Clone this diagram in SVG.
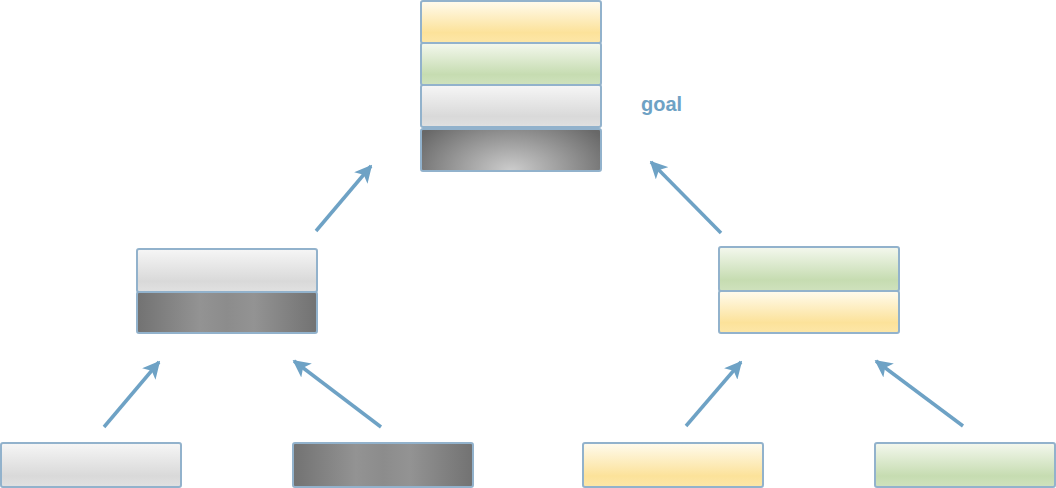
<svg xmlns="http://www.w3.org/2000/svg" width="1056" height="488" viewBox="0 0 1056 488">
<style>
.n{stroke:#92b2cc;stroke-width:2}
.c{stroke:#6ea2c5;stroke-width:3.5;fill:none;marker-end:url(#ah)}
.y{fill:url(#gy)}.g{fill:url(#gg)}.l{fill:url(#gl)}.d{fill:url(#gd)}.r{fill:url(#gr)}
</style>
<defs>
<linearGradient id="gy" x1="0" y1="0" x2="0" y2="1"><stop offset="0" stop-color="#fffbee"/><stop offset="0.75" stop-color="#fce29a"/><stop offset="1" stop-color="#fde7a8"/></linearGradient>
<linearGradient id="gg" x1="0" y1="0" x2="0" y2="1"><stop offset="0" stop-color="#f4f8ee"/><stop offset="0.75" stop-color="#c6dcb1"/><stop offset="1" stop-color="#cfe2bd"/></linearGradient>
<linearGradient id="gl" x1="0" y1="0" x2="0" y2="1"><stop offset="0" stop-color="#f6f6f6"/><stop offset="0.75" stop-color="#d9d9d9"/><stop offset="1" stop-color="#e1e1e1"/></linearGradient>
<linearGradient id="gd" x1="0" y1="0" x2="1" y2="0"><stop offset="0" stop-color="#727272"/><stop offset="0.35" stop-color="#939393"/><stop offset="0.5" stop-color="#8c8c8c"/><stop offset="0.65" stop-color="#939393"/><stop offset="1" stop-color="#727272"/></linearGradient>
<radialGradient id="gr" cx="0.5" cy="1" r="0.6" gradientTransform="translate(0.5 1) scale(1 2.5) translate(-0.5 -1)"><stop offset="0" stop-color="#cdcdcd"/><stop offset="1" stop-color="#686868"/></radialGradient>
<marker id="ah" viewBox="0 0 10 10" refX="9" refY="5" markerWidth="5" markerHeight="5" orient="auto" markerUnits="strokeWidth"><path d="M0,0 L10,5 L0,10 L2.5,5 Z" fill="#6ea2c5"/></marker>
</defs>
<g id="connectors">
<line class="c" x1="316" y1="231" x2="371" y2="166"/>
<line class="c" x1="721" y1="233" x2="651" y2="162"/>
<line class="c" x1="104" y1="427" x2="159" y2="362"/>
<line class="c" x1="381" y1="427" x2="294" y2="361"/>
<line class="c" x1="686" y1="426" x2="741" y2="362"/>
<line class="c" x1="963" y1="426" x2="876" y2="361"/>
</g>
<g id="node-top">
<rect class="n y" x="421" y="1" width="180" height="42" rx="2"/>
<rect class="n g" x="421" y="43" width="180" height="42" rx="2"/>
<rect class="n l" x="421" y="85" width="180" height="42" rx="2"/>
<rect class="n r" x="421" y="129" width="180" height="42" rx="2"/>
</g>
<g id="goal-label"><text x="641" y="111" font-family="Liberation Sans, Arial, sans-serif" font-size="20" font-weight="bold" fill="#6ea2c5">goal</text></g>
<g id="node-mid-left">
<rect class="n l" x="137" y="249" width="180" height="43" rx="2"/>
<rect class="n d" x="137" y="292" width="180" height="41" rx="2"/>
</g>
<g id="node-mid-right">
<rect class="n g" x="719" y="247" width="180" height="44" rx="2"/>
<rect class="n y" x="719" y="291" width="180" height="42" rx="2"/>
</g>
<g id="node-b1"><rect class="n l" x="1" y="443" width="180" height="44" rx="2"/></g>
<g id="node-b2"><rect class="n d" x="293" y="443" width="180" height="44" rx="2"/></g>
<g id="node-b3"><rect class="n y" x="583" y="443" width="180" height="44" rx="2"/></g>
<g id="node-b4"><rect class="n g" x="875" y="443" width="180" height="44" rx="2"/></g>
</svg>
